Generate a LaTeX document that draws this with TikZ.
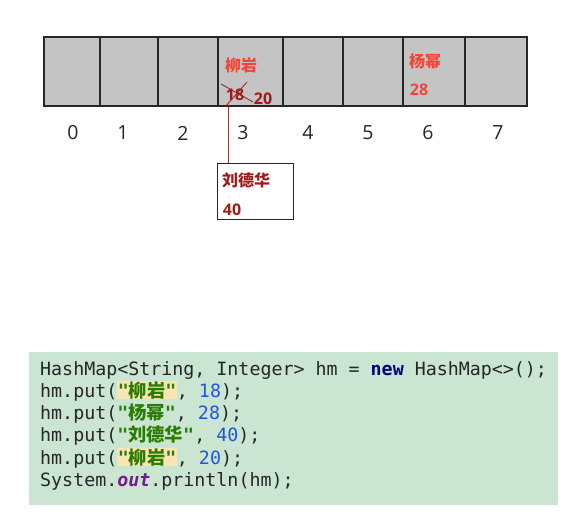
\documentclass[tikz,border=0pt]{standalone}
\usepackage{fontspec}
\setmainfont{Open Sans}
\setmonofont{DejaVu Sans Mono}
\newfontfamily\cjk{Noto Sans CJK SC}
\usetikzlibrary{positioning}
\definecolor{cellgray}{HTML}{C4C4C4}
\definecolor{keyred}{HTML}{F2463A}
\definecolor{valred}{HTML}{9E1B1B}
\definecolor{linkbrown}{HTML}{8E3B3B}
\definecolor{codebg}{HTML}{CAE5D2}
\definecolor{codetext}{HTML}{262626}
\definecolor{strgreen}{HTML}{2A7D00}
\definecolor{numblue}{HTML}{2455D8}
\definecolor{kwnavy}{HTML}{000080}
\definecolor{fieldpurple}{HTML}{741C8C}
\definecolor{hlbg}{HTML}{F7E5B5}
\newcommand\jstr[1]{{\color{strgreen}\bfseries"{\cjk #1}"}}
\newcommand\jhl[1]{{\setlength\fboxsep{0.5pt}\colorbox{hlbg}{\jstr{#1}}}}
\newcommand\jnum[1]{{\color{numblue}#1}}
\tikzset{
  cell/.style={draw=black!85, line width=1.6pt, fill=cellgray, minimum height=69pt, inner sep=0pt},
  idx/.style={font=\fontsize{19.5}{19.5}\selectfont, text=black!85},
  keylbl/.style={font=\fontsize{16}{16}\selectfont\bfseries\cjk, inner sep=0pt},
  vallbl/.style={font=\fontsize{16}{16}\selectfont\bfseries, inner sep=0pt},
  entrybox/.style={draw=black!85, line width=1pt, minimum width=76pt, minimum height=56pt, inner sep=0pt},
  codeline/.style={anchor=base west, inner sep=0pt, text=codetext, font=\fontsize{18.3}{18.3}\selectfont\ttfamily}
}
\begin{document}
\begin{tikzpicture}[x=1pt,y=-1pt]
\useasboundingbox (0,0) rectangle (583,532);
\foreach \i/\l/\r in {0/44/100,1/100/158,2/158/218,3/218/283,4/283/343,5/343/403,6/403/465,7/465/527}
  \node[cell, minimum width={(\r-\l)*1pt}] (cell\i) at ({(\l+\r)/2},71.5) {};
\foreach \i/\x in {0/73,1/123,2/183,3/243,4/308,5/368,6/428,7/498}
  \node[idx] (idx\i) at (\x,133) {\i};
\node[keylbl, text=keyred] (key3) at (241,65) {柳岩};
\node[vallbl, text=valred] (old3) at (235,95) {18};
\node[vallbl, text=valred] (val3) at (263,99) {20};
\draw[valred, line width=0.8pt] (221,84) -- (253,102);
\draw[valred, line width=0.8pt] (225,107) -- (247,82);
\node[keylbl, text=keyred] (key6) at (425,61) {杨幂};
\node[vallbl, text=keyred] (val6) at (419,90) {28};
\coordinate (c3) at (228,106);
\node[entrybox] (ldh) at (255,191) {};
\node[keylbl, text=valred] (keyldh) at (246,180) {刘德华};
\node[vallbl, text=valred] (valldh) at (232,210) {40};
\draw[linkbrown, line width=1pt] (c3) -- (c3 |- ldh.north);
\fill[codebg] (29,352) rectangle (558,505);
\node[codeline] (l1) at (40,375) {HashMap<String, Integer> hm = {\color{kwnavy}\bfseries new} HashMap<>();};
\node[codeline] (l2) at (40,397) {hm.put(\jhl{柳岩}, \jnum{18});};
\node[codeline] (l3) at (40,419) {hm.put(\jstr{杨幂}, \jnum{28});};
\node[codeline] (l4) at (40,441) {hm.put(\jstr{刘德华}, \jnum{40});};
\node[codeline] (l5) at (40,464) {hm.put(\jhl{柳岩}, \jnum{20});};
\node[codeline] (l6) at (40,486) {System.{\color{fieldpurple}\bfseries\itshape out}.println(hm);};
\end{tikzpicture}
\end{document}
